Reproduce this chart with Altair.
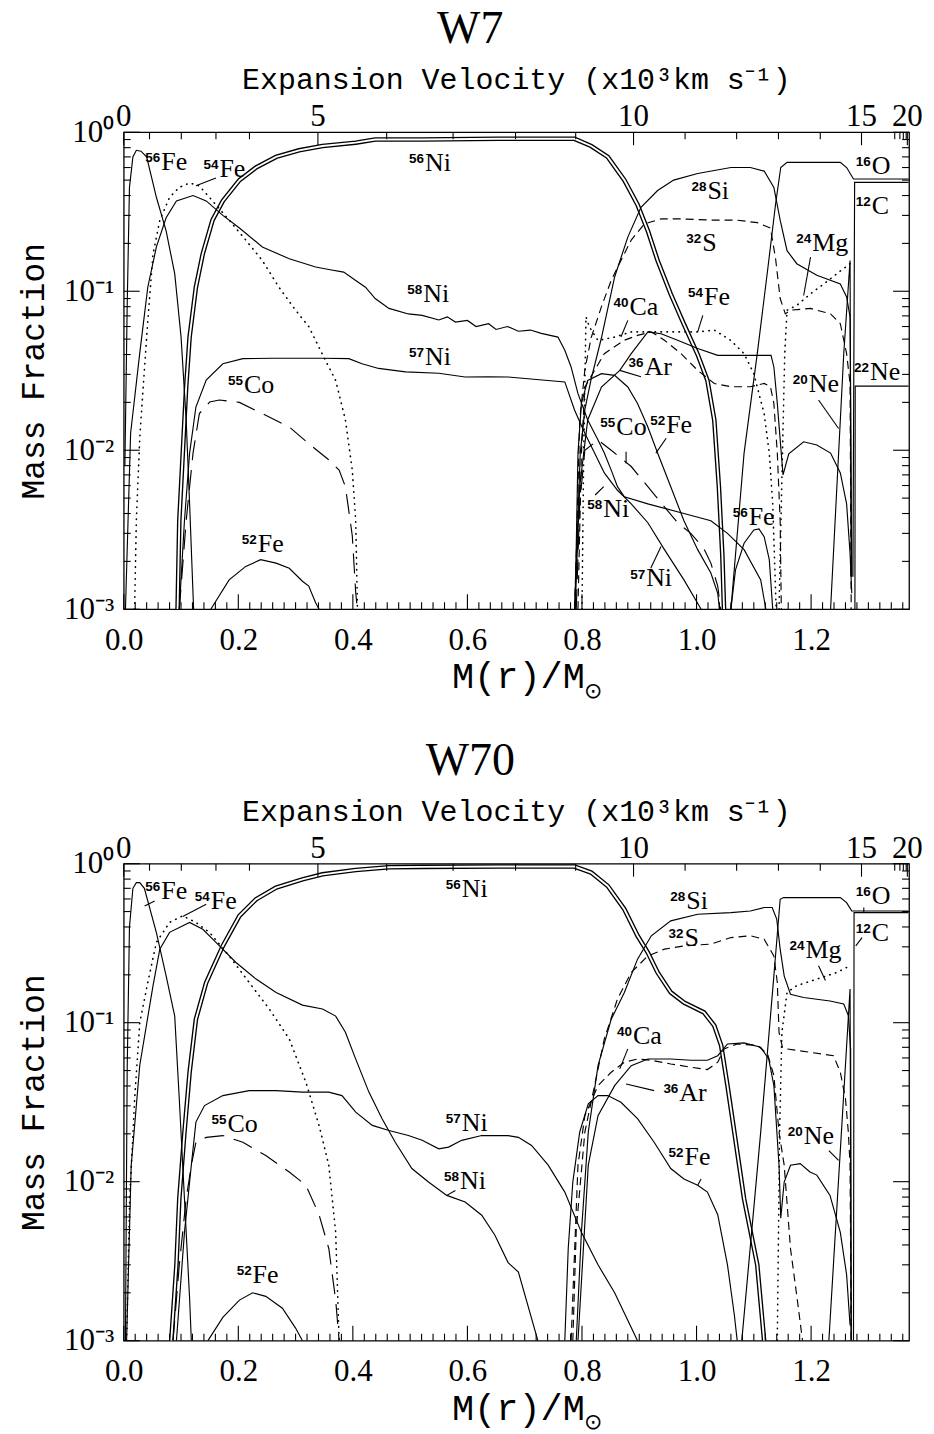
import altair as alt
import pandas as pd

# ------------------------------------------------------------------
# Nucleosynthesis yields of the W7 and W70 deflagration models:
# mass fraction versus enclosed mass M(r)/Msun.
# ------------------------------------------------------------------

# ---------------- W7 ----------------
w7_fe56_m = [0.002, 0.006, 0.010, 0.016, 0.022, 0.030, 0.040, 0.057, 0.074, 0.089, 0.100, 0.109, 0.115, 0.122]
w7_fe56_x = [0.008, 0.08, 0.45, 0.70, 0.77, 0.76, 0.70, 0.39, 0.24, 0.129, 0.052, 0.0155, 0.0046, 0.001]
w7_fe56b_m = [1.060, 1.068, 1.083, 1.100, 1.109, 1.118, 1.127, 1.133]
w7_fe56b_x = [0.001, 0.00177, 0.0026, 0.00315, 0.0032, 0.00286, 0.00205, 0.001]

w7_fe54_m = [0.019, 0.022, 0.028, 0.034, 0.042, 0.051, 0.063, 0.080, 0.097, 0.115, 0.132, 0.155, 0.184,
             0.213, 0.242, 0.271, 0.300, 0.323, 0.347, 0.370, 0.387, 0.399, 0.405, 0.408]
w7_fe54_x = [0.001, 0.0036, 0.012, 0.025, 0.065, 0.17, 0.28, 0.39, 0.45, 0.48, 0.46, 0.37, 0.28,
             0.21, 0.156, 0.106, 0.076, 0.060, 0.040, 0.0275, 0.0155, 0.0075, 0.0036, 0.001]
w7_fe54b_m = [0.800, 0.803, 0.807, 0.813, 0.828, 0.857, 0.886, 0.944, 1.002, 1.031, 1.060, 1.083, 1.100,
              1.118, 1.127, 1.133, 1.139]
w7_fe54b_x = [0.001, 0.0096, 0.069, 0.0596, 0.049, 0.0515, 0.0555, 0.0555, 0.0555, 0.057, 0.049, 0.0405,
              0.0303, 0.017, 0.0096, 0.0046, 0.001]

w7_ni56_m = [0.094, 0.097, 0.103, 0.109, 0.115, 0.126, 0.138, 0.155, 0.173, 0.202, 0.231, 0.266, 0.306,
             0.347, 0.405, 0.439, 0.521, 0.654, 0.787, 0.816, 0.845, 0.874, 0.897, 0.915, 0.932, 0.955,
             0.978, 1.002, 1.019, 1.031, 1.039, 1.045, 1.048]
w7_ni56_x = [0.001, 0.0036, 0.0095, 0.025, 0.0515, 0.106, 0.172, 0.28, 0.37, 0.50, 0.60, 0.70, 0.77,
             0.82, 0.86, 0.90, 0.90, 0.91, 0.91, 0.82, 0.70, 0.50, 0.35, 0.24, 0.156, 0.096,
             0.062, 0.040, 0.0275, 0.0155, 0.0059, 0.0022, 0.001]

w7_ni58_m = [0.003, 0.012, 0.028, 0.042, 0.057, 0.074, 0.092, 0.121, 0.144, 0.173, 0.202, 0.242, 0.289,
             0.335, 0.358, 0.384, 0.405, 0.422, 0.439, 0.463, 0.497, 0.521, 0.550, 0.565, 0.579, 0.600,
             0.615, 0.637, 0.650, 0.670, 0.689, 0.710, 0.729, 0.758, 0.770, 0.781, 0.793, 0.810, 0.828,
             0.839, 0.851, 0.862, 0.874, 0.915, 0.978, 1.025, 1.054, 1.083, 1.112, 1.121]
w7_ni58_x = [0.001, 0.0128, 0.041, 0.106, 0.19, 0.29, 0.37, 0.40, 0.37, 0.30, 0.25, 0.19, 0.16,
             0.142, 0.137, 0.132, 0.117, 0.106, 0.090, 0.078, 0.072, 0.0705, 0.066, 0.069, 0.0640, 0.0655,
             0.0600, 0.0625, 0.0575, 0.0600, 0.0560, 0.0570, 0.0543, 0.0515, 0.0425, 0.0334, 0.0227, 0.0155, 0.0116,
             0.0096, 0.0075, 0.0059, 0.0051, 0.0046, 0.0040, 0.0036, 0.0030, 0.00237, 0.00153, 0.001]

w7_ni57_m = [0.097, 0.106, 0.115, 0.126, 0.144, 0.173, 0.208, 0.260, 0.347, 0.393, 0.416, 0.445, 0.492,
             0.550, 0.596, 0.637, 0.671, 0.770, 0.787, 0.805, 0.822, 0.839, 0.862, 0.886, 0.915, 0.944,
             0.978, 1.008]
w7_ni57_x = [0.001, 0.0036, 0.0096, 0.0187, 0.0276, 0.035, 0.0377, 0.0379, 0.0379, 0.0377, 0.035, 0.0327,
             0.0311, 0.0305, 0.0289, 0.029, 0.0289, 0.0269, 0.0179, 0.0128, 0.0096, 0.0072, 0.0056, 0.0046,
             0.0035, 0.00237, 0.00153, 0.001]

w7_co55_m = [0.097, 0.109, 0.121, 0.132, 0.150, 0.167, 0.202, 0.242, 0.289, 0.323, 0.358, 0.376, 0.387,
             0.399, 0.405, 0.408]
w7_co55_x = [0.001, 0.0036, 0.0096, 0.017, 0.0201, 0.0207, 0.020, 0.017, 0.014, 0.011, 0.0087, 0.0075,
             0.0059, 0.0029, 0.00127, 0.001]
w7_co55b_m = [0.790, 0.796, 0.805, 0.828, 0.851, 0.886, 0.915, 0.944, 0.967, 0.990, 1.013, 1.025, 1.037, 1.042]
w7_co55b_x = [0.001, 0.0046, 0.010, 0.0116, 0.010, 0.0079, 0.0059, 0.0044, 0.0035, 0.003, 0.0024, 0.00195,
              0.0014, 0.001]

w7_fe52_m = [0.152, 0.184, 0.213, 0.239, 0.266, 0.289, 0.312, 0.323, 0.335, 0.341]
w7_fe52_x = [0.001, 0.00153, 0.00186, 0.00205, 0.00195, 0.00181, 0.0015, 0.0014, 0.0011, 0.001]
w7_fe52b_m = [0.788, 0.793, 0.799, 0.810, 0.834, 0.857, 0.880, 0.897, 0.915, 0.932, 0.955, 0.978, 1.002,
              1.025, 1.037, 1.040]
w7_fe52b_x = [0.001, 0.0096, 0.0197, 0.0275, 0.0303, 0.0296, 0.025, 0.0197, 0.014, 0.0096, 0.0059, 0.0036,
              0.00237, 0.00169, 0.00126, 0.001]

w7_si28_m = [0.787, 0.797, 0.805, 0.816, 0.834, 0.857, 0.880, 0.903, 0.932, 0.960, 1.002, 1.060, 1.094,
             1.118, 1.135, 1.146, 1.158, 1.175, 1.210, 1.251, 1.262, 1.268, 1.271]
w7_si28_x = [0.001, 0.0096, 0.018, 0.028, 0.051, 0.123, 0.219, 0.337, 0.43, 0.50, 0.55, 0.60, 0.60,
             0.57, 0.45, 0.28, 0.18, 0.149, 0.126, 0.111, 0.092, 0.069, 0.0016]

w7_s32_m = [0.787, 0.790, 0.796, 0.805, 0.816, 0.834, 0.851, 0.868, 0.886, 0.909, 0.938, 0.973, 1.031,
            1.071, 1.106, 1.129, 1.138, 1.146, 1.155, 1.164, 1.199, 1.234, 1.251, 1.262, 1.268, 1.270]
w7_s32_x = [0.001, 0.0022, 0.0154, 0.032, 0.051, 0.080, 0.117, 0.156, 0.21, 0.265, 0.285, 0.285, 0.28,
            0.28, 0.27, 0.25, 0.16, 0.09, 0.072, 0.076, 0.078, 0.072, 0.0625, 0.0405, 0.0263, 0.001]

w7_ca40_m = [0.793, 0.799, 0.805, 0.839, 0.874, 0.897, 0.921, 0.944, 0.973, 1.002, 1.031, 1.060, 1.094,
             1.118, 1.129, 1.135, 1.141, 1.146, 1.148]
w7_ca40_x = [0.001, 0.0096, 0.025, 0.0405, 0.0492, 0.0528, 0.0555, 0.0492, 0.0405, 0.0318, 0.0263, 0.0251,
             0.0251, 0.0263, 0.0251, 0.0197, 0.0096, 0.0036, 0.001]

w7_ar36_m = [0.788, 0.796, 0.810, 0.834, 0.866, 0.886, 0.915, 0.938, 0.967, 1.002, 1.037, 1.130, 1.135,
             1.141, 1.147, 1.151, 1.161, 1.187, 1.210, 1.234, 1.251, 1.262, 1.268, 1.271]
w7_ar36_x = [0.001, 0.0059, 0.0155, 0.025, 0.0318, 0.0405, 0.0555, 0.054, 0.0492, 0.0436, 0.0395, 0.0395,
             0.0334, 0.0197, 0.0105, 0.007, 0.0095, 0.0113, 0.0108, 0.0096, 0.0072, 0.0046, 0.00225, 0.00126]

w7_o16_m = [1.060, 1.083, 1.106, 1.124, 1.138, 1.147, 1.158, 1.251, 1.262, 1.274, 1.370]
w7_o16_x = [0.001, 0.0096, 0.0405, 0.135, 0.354, 0.60, 0.647, 0.647, 0.60, 0.508, 0.508]
w7_mg24_m = [1.144, 1.150, 1.154, 1.158, 1.175, 1.199, 1.222, 1.245, 1.268]
w7_mg24_x = [0.001, 0.0096, 0.0405, 0.076, 0.0815, 0.0964, 0.111, 0.129, 0.149]
w7_ne20_m = [1.234, 1.245, 1.257, 1.268, 1.270]
w7_ne20_x = [0.001, 0.0059, 0.0405, 0.156, 0.0016]
w7_c12_m = [1.273, 1.276, 1.370]
w7_c12_x = [0.0016, 0.484, 0.484]
w7_ne22_m = [1.2765, 1.277, 1.370]
w7_ne22_x = [0.001, 0.0253, 0.0253]

# ---------------- W70 ----------------
w70_fe56_m = [0.003, 0.006, 0.010, 0.016, 0.022, 0.028, 0.036, 0.057, 0.074, 0.089, 0.097, 0.106, 0.115, 0.118]
w70_fe56_x = [0.001, 0.05, 0.40, 0.70, 0.76, 0.76, 0.70, 0.369, 0.197, 0.11, 0.033, 0.0078, 0.00184, 0.001]

w70_fe54_m = [0.005, 0.0104, 0.019, 0.028, 0.042, 0.057, 0.080, 0.103, 0.126, 0.150, 0.184, 0.219, 0.254,
              0.289, 0.318, 0.341, 0.358, 0.370, 0.376]
w70_fe54_x = [0.001, 0.0078, 0.033, 0.10, 0.179, 0.32, 0.427, 0.47, 0.427, 0.369, 0.263, 0.179, 0.122,
              0.079, 0.0422, 0.0226, 0.0127, 0.0048, 0.001]

w70_ni58_m = [0.005, 0.013, 0.028, 0.051, 0.063, 0.080, 0.115, 0.138, 0.161, 0.196, 0.231, 0.266, 0.312,
              0.347, 0.370, 0.387, 0.405, 0.428, 0.451, 0.474, 0.503, 0.532, 0.564, 0.596, 0.625, 0.648,
              0.671, 0.689, 0.723]
w70_ni58_x = [0.001, 0.0126, 0.054, 0.17, 0.29, 0.37, 0.427, 0.387, 0.32, 0.239, 0.188, 0.155, 0.129,
              0.122, 0.11, 0.087, 0.059, 0.0366, 0.0249, 0.0177, 0.0121, 0.00995, 0.0082, 0.00745, 0.00615,
              0.0046, 0.0031, 0.0027, 0.001]

w70_ni57_m = [0.092, 0.106, 0.118, 0.126, 0.141, 0.173, 0.219, 0.266, 0.312, 0.358, 0.381, 0.405, 0.434,
              0.463, 0.497, 0.521, 0.550, 0.567, 0.590, 0.625, 0.671, 0.689, 0.712, 0.741, 0.770, 0.799,
              0.828, 0.857, 0.897]
w70_ni57_x = [0.001, 0.0048, 0.0127, 0.0237, 0.0301, 0.0348, 0.0374, 0.0374, 0.0366, 0.0366, 0.0348, 0.0274,
              0.0226, 0.021, 0.0195, 0.0182, 0.0161, 0.0165, 0.0182, 0.0195, 0.0195, 0.019, 0.0169, 0.0127,
              0.0086, 0.0048, 0.003, 0.002, 0.001]

w70_ni56_m = [0.083, 0.092, 0.097, 0.106, 0.115, 0.126, 0.144, 0.173, 0.202, 0.231, 0.266, 0.312, 0.347,
              0.405, 0.463, 0.521, 0.654, 0.787, 0.816, 0.845, 0.874, 0.897, 0.915, 0.932, 0.955, 0.978,
              1.013, 1.031, 1.043, 1.054, 1.066, 1.083, 1.106, 1.118]
w70_ni56_x = [0.001, 0.003, 0.0078, 0.0205, 0.0488, 0.105, 0.179, 0.304, 0.47, 0.597, 0.707, 0.797, 0.857,
              0.912, 0.95, 0.955, 0.96, 0.96, 0.88, 0.724, 0.517, 0.352, 0.276, 0.207, 0.155, 0.134,
              0.116, 0.0958, 0.0718, 0.0402, 0.0205, 0.0078, 0.003, 0.001]

w70_co55_m = [0.086, 0.097, 0.109, 0.118, 0.126, 0.144, 0.173, 0.208, 0.248, 0.289, 0.318, 0.341, 0.358,
              0.370, 0.376]
w70_co55_x = [0.001, 0.003, 0.0078, 0.0127, 0.0177, 0.019, 0.0195, 0.0177, 0.0146, 0.0115, 0.0095, 0.0062,
              0.0038, 0.0018, 0.001]

w70_fe52_m = [0.147, 0.173, 0.202, 0.225, 0.248, 0.277, 0.300, 0.312]
w70_fe52_x = [0.001, 0.0014, 0.0018, 0.002, 0.0019, 0.0016, 0.0012, 0.001]
w70_fe52b_m = [0.770, 0.776, 0.784, 0.796, 0.811, 0.828, 0.845, 0.868, 0.897, 0.926, 0.955, 0.978, 1.002,
               1.019, 1.037, 1.054, 1.066, 1.071]
w70_fe52b_x = [0.001, 0.0038, 0.00995, 0.0205, 0.0309, 0.0348, 0.0348, 0.0316, 0.0249, 0.0177, 0.0121,
               0.0104, 0.0095, 0.0086, 0.0062, 0.003, 0.00145, 0.001]

w70_si28_m = [0.790, 0.799, 0.811, 0.828, 0.851, 0.874, 0.897, 0.921, 0.955, 1.002, 1.060, 1.094, 1.118,
              1.132, 1.140, 1.146, 1.153, 1.164, 1.187, 1.233, 1.257, 1.265, 1.269, 1.270]
w70_si28_x = [0.001, 0.0048, 0.0205, 0.0537, 0.105, 0.155, 0.251, 0.352, 0.437, 0.481, 0.492, 0.504, 0.53,
              0.53, 0.448, 0.29, 0.197, 0.151, 0.144, 0.137, 0.131, 0.111, 0.068, 0.001]

w70_s32_m = [0.784, 0.790, 0.805, 0.839, 0.862, 0.886, 0.915, 0.944, 0.978, 1.025, 1.060, 1.094, 1.118,
             1.135, 1.141, 1.144, 1.150, 1.158, 1.239, 1.251, 1.260, 1.265, 1.268, 1.270]
w70_s32_x = [0.001, 0.005, 0.0205, 0.079, 0.141, 0.207, 0.263, 0.29, 0.304, 0.312, 0.343, 0.352, 0.335,
             0.263, 0.179, 0.087, 0.07, 0.0684, 0.062, 0.0488, 0.0332, 0.0205, 0.0127, 0.001]

w70_ca40_m = [0.781, 0.793, 0.805, 0.828, 0.851, 0.874, 0.897, 0.921, 0.955, 0.990, 1.019, 1.037, 1.048,
              1.071, 1.106, 1.124, 1.135, 1.144, 1.153, 1.164, 1.176, 1.185]
w70_ca40_x = [0.001, 0.0127, 0.026, 0.0402, 0.0488, 0.0564, 0.0591, 0.058, 0.055, 0.0525, 0.0507, 0.0564,
              0.0684, 0.0735, 0.072, 0.0636, 0.0465, 0.0205, 0.0127, 0.0038, 0.0018, 0.001]

w70_ar36_m = [0.793, 0.811, 0.828, 0.857, 0.886, 0.915, 0.955, 0.990, 1.019, 1.037, 1.054, 1.083, 1.112,
              1.126, 1.135, 1.144, 1.147, 1.153, 1.164, 1.181, 1.198, 1.210, 1.233, 1.251, 1.262, 1.268]
w70_ar36_x = [0.001, 0.0127, 0.026, 0.0402, 0.0537, 0.0591, 0.0591, 0.058, 0.058, 0.062, 0.0735, 0.0747,
              0.070, 0.0591, 0.0402, 0.0127, 0.0059, 0.00995, 0.0127, 0.013, 0.0115, 0.011, 0.0082, 0.0048,
              0.0026, 0.00125]

w70_o16_m = [1.079, 1.112, 1.135, 1.146, 1.152, 1.251, 1.262, 1.271, 1.370]
w70_o16_x = [0.001, 0.0205, 0.197, 0.597, 0.612, 0.612, 0.569, 0.504, 0.504]
w70_mg24_m = [1.141, 1.145, 1.149, 1.158, 1.175, 1.210, 1.245, 1.268]
w70_mg24_x = [0.001, 0.0205, 0.087, 0.155, 0.171, 0.188, 0.207, 0.228]
w70_ne20_m = [1.231, 1.268, 1.270]
w70_ne20_x = [0.001, 0.163, 0.001]
w70_c12_m = [1.274, 1.275, 1.370]
w70_c12_x = [0.001, 0.492, 0.492]

# ---------------- isotope labels (anchor = start of the element symbol) ----------------
w7_lab_m = [0.0655, 0.167, 0.526, 0.523, 0.526, 0.210, 0.234, 1.019, 1.010, 1.306, 1.306, 1.202, 0.883,
            1.013, 0.909, 1.196, 1.303, 0.860, 0.947, 0.837, 0.912, 1.091]
w7_lab_x = [0.579, 0.521, 0.568, 0.0855, 0.0343, 0.023, 0.00228, 0.381, 0.180, 0.546, 0.306, 0.18, 0.0705,
            0.0815, 0.0296, 0.0233, 0.0275, 0.01245, 0.0128, 0.00383, 0.00139, 0.00339]
w7_lab_a = ["56", "54", "56", "58", "57", "55", "52", "28", "32", "16", "12", "24", "40",
            "54", "36", "20", "22", "55", "52", "58", "57", "56"]
w7_lab_el = ["Fe", "Fe", "Ni", "Ni", "Ni", "Co", "Fe", "Si", "S", "O", "C", "Mg", "Ca",
             "Fe", "Ar", "Ne", "Ne", "Co", "Fe", "Ni", "Ni", "Fe"]

w7_lead_m1 = [0.126, 1.199, 0.880, 1.011, 0.903, 1.213, 0.877, 0.947, 0.823, 0.920]
w7_lead_x1 = [0.461, 0.164, 0.0656, 0.0705, 0.029, 0.0207, 0.0098, 0.0119, 0.00523, 0.00181]
w7_lead_m2 = [0.161, 1.187, 0.868, 1.002, 0.866, 1.248, 0.877, 0.929, 0.838, 0.938]
w7_lead_x2 = [0.515, 0.094, 0.0515, 0.0555, 0.0318, 0.0137, 0.00826, 0.0096, 0.0059, 0.00248]

w70_lab_m = [0.0655, 0.152, 0.590, 0.590, 0.587, 0.181, 0.225, 0.982, 0.979, 1.306, 1.306, 1.190, 0.889,
             0.970, 0.979, 1.187]
w70_lab_x = [0.597, 0.522, 0.621, 0.0207, 0.009, 0.0205, 0.00229, 0.517, 0.304, 0.556, 0.327, 0.257, 0.0735,
             0.0324, 0.0127, 0.0173]
w70_lab_a = ["56", "54", "56", "57", "58", "55", "52", "28", "32", "16", "12", "24", "40", "36", "52", "20"]
w70_lab_el = ["Fe", "Fe", "Ni", "Ni", "Ni", "Co", "Fe", "Si", "S", "O", "C", "Mg", "Ca", "Ar", "Fe", "Ne"]

w70_lead_m1 = [0.0365, 0.103, 0.564, 0.866, 0.877, 1.213, 1.008, 1.231, 1.292, 1.289]
w70_lead_x1 = [0.542, 0.465, 0.0082, 0.0512, 0.0412, 0.228, 0.0104, 0.0157, 0.53, 0.343]
w70_lead_m2 = [0.054, 0.144, 0.579, 0.880, 0.926, 1.225, 1.002, 1.248, 1.292, 1.278]
w70_lead_x2 = [0.583, 0.555, 0.0088, 0.0684, 0.0374, 0.184, 0.0095, 0.0136, 0.49, 0.304]

# ---------------- axes ----------------
mass_labels = [0.0, 0.2, 0.4, 0.6, 0.8, 1.0, 1.2]
mass_minor = [round(0.02 * k, 2) for k in range(1, 69) if k % 10 != 0]
frac_major = [0.001, 0.01, 0.1, 1.0]
frac_minor = [k * 10.0 ** e for e in (-3, -2, -1) for k in range(2, 10)]
vel_labels = ["0", "5", "10", "15", "20"]
vel_major_m = [0.0, 0.339, 0.890, 1.288, 1.368]
vel_minor_m = [0.045, 0.1005, 0.161, 0.2195, 0.459, 0.575, 0.684, 0.789, 0.980, 1.070, 1.143, 1.216,
               1.346, 1.355, 1.361, 1.366]

W, H = 787, 478
M_MAX = 1.371
SERIF = "Liberation Serif"
MONO = "Liberation Mono"
SANS = "Liberation Sans"

x_scale = alt.Scale(domain=[0, M_MAX], nice=False, zero=False)
y_scale = alt.Scale(type="log", domain=[0.001, 1.0], nice=False)

x_axis = alt.Axis(values=mass_labels, format=".1f", labelFont=SERIF, labelFontSize=31, labelColor="black",
                  labelPadding=16, labelFlush=False, ticks=False, domain=False, grid=False, title=None)
y_axis = alt.Axis(values=frac_major, labelFont=SERIF, labelFontSize=31, labelColor="black", labelPadding=10,
                  labelExpr="datum.value > 0.5 ? '10\u2070' : datum.value > 0.05 ? '10\u207b\u00b9' : "
                            "datum.value > 0.005 ? '10\u207b\u00b2' : '10\u207b\u00b3'",
                  ticks=False, domain=False, grid=False, labelFlush=False,
                  title="Mass Fraction", titleFont=MONO, titleFontSize=33, titleFontWeight="normal",
                  titleColor="black", titlePadding=13)


def ex(field):
    return alt.X(field, type="quantitative", scale=x_scale, axis=x_axis)


def ey(field):
    return alt.Y(field, type="quantitative", scale=y_scale, axis=y_axis)


def curve_table(curves):
    rows = []
    for name, style, ms, xs in curves:
        for i, (m, x) in enumerate(zip(ms, xs)):
            rows.append({"curve": name, "style": style, "m": m, "x": x, "i": i})
    return pd.DataFrame(rows)


def note(text, x, y, font, size, **kw):
    """A single piece of axis text placed relative to the plot frame."""
    return alt.Chart(pd.DataFrame({"t": [text]})).mark_text(
        font=font, fontSize=size, color="black", **kw
    ).encode(x=alt.value(x), y=alt.value(y), text="t:N")


def panel(title, curves, lab_m, lab_x, lab_a, lab_el, l_m1, l_x1, l_m2, l_x2):
    base = alt.Chart(curve_table(curves))

    def lines(style, color="black", **kw):
        return base.transform_filter(alt.datum.style == style).mark_line(
            clip=True, color=color, **kw
        ).encode(x=ex("m"), y=ey("x"), detail="curve:N", order="i:Q")

    dbl_outer = lines("double", strokeWidth=4.6)
    dbl_inner = lines("double", color="white", strokeWidth=1.9)
    solid = lines("solid", strokeWidth=1.15)
    dotted = lines("dotted", strokeWidth=1.6, strokeDash=[0.5, 5.5], strokeCap="round")
    dashed = lines("dashed", strokeWidth=1.15, strokeDash=[8, 5])
    longdash = lines("longdash", strokeWidth=1.15, strokeDash=[20, 10])

    leaders = alt.Chart(pd.DataFrame({"m1": l_m1, "x1": l_x1, "m2": l_m2, "x2": l_x2})).mark_rule(
        color="black", strokeWidth=1.1
    ).encode(x=ex("m1"), x2="m2", y=ey("x1"), y2="x2")

    labels = pd.DataFrame({"m": lab_m, "x": lab_x, "a": lab_a, "el": lab_el})
    sup = alt.Chart(labels).mark_text(
        align="right", baseline="alphabetic", dy=-8, dx=-1, font=SANS, fontWeight="bold",
        fontSize=13.5, color="black"
    ).encode(x=ex("m"), y=ey("x"), text="a:N")
    sym = alt.Chart(labels).mark_text(
        align="left", baseline="alphabetic", font=SERIF, fontSize=26, color="black"
    ).encode(x=ex("m"), y=ey("x"), text="el:N")

    # inward tick marks on all four sides
    bmaj = pd.DataFrame({"m": mass_labels})
    bmin = pd.DataFrame({"m": mass_minor})
    ymaj = pd.DataFrame({"v": frac_major})
    ymin = pd.DataFrame({"v": frac_minor})
    tmaj = pd.DataFrame({"m": vel_major_m, "t": vel_labels})
    tmin = pd.DataFrame({"m": vel_minor_m})

    def rule(df):
        return alt.Chart(df).mark_rule(color="black", strokeWidth=1.1)

    ticks = [
        rule(bmaj).encode(x=ex("m"), y=alt.value(H), y2=alt.value(H - 15)),
        rule(bmin).encode(x=ex("m"), y=alt.value(H), y2=alt.value(H - 7)),
        rule(tmaj).encode(x=ex("m"), y=alt.value(0), y2=alt.value(13)),
        rule(tmin).encode(x=ex("m"), y=alt.value(0), y2=alt.value(7)),
        rule(ymaj).encode(y=ey("v"), x=alt.value(0), x2=alt.value(16)),
        rule(ymin).encode(y=ey("v"), x=alt.value(0), x2=alt.value(7)),
        rule(ymaj).encode(y=ey("v"), x=alt.value(W), x2=alt.value(W - 16)),
        rule(ymin).encode(y=ey("v"), x=alt.value(W), x2=alt.value(W - 7)),
    ]

    top_labels = alt.Chart(tmaj).mark_text(
        baseline="bottom", font=SERIF, fontSize=31, color="black"
    ).encode(x=ex("m"), y=alt.value(1), text="t:N")
    top_title = note("Expansion Velocity (x10\u00b3km s\u207b\u00b9)", W / 2, -52, MONO, 30, baseline="middle")
    x_title = note("M(r)/M", W / 2 + 2, H + 68, MONO, 37, baseline="middle")
    x_title_sub = note("\u2299", W / 2 + 77, H + 82, "DejaVu Sans", 22, baseline="middle")

    return alt.layer(
        dbl_outer, dbl_inner, solid, dotted, dashed, longdash, leaders, sup, sym,
        *ticks, top_labels, top_title, x_title, x_title_sub
    ).properties(
        width=W, height=H,
        title=alt.TitleParams(title, font=SERIF, fontSize=46, fontWeight="normal", color="black",
                              anchor="middle", frame="bounds", offset=12),
    )


w7_curves = [
    ("56Ni", "double", w7_ni56_m, w7_ni56_x),
    ("56Fe", "solid", w7_fe56_m, w7_fe56_x),
    ("56Fe b", "solid", w7_fe56b_m, w7_fe56b_x),
    ("58Ni", "solid", w7_ni58_m, w7_ni58_x),
    ("57Ni", "solid", w7_ni57_m, w7_ni57_x),
    ("52Fe", "solid", w7_fe52_m, w7_fe52_x),
    ("52Fe b", "solid", w7_fe52b_m, w7_fe52b_x),
    ("28Si", "solid", w7_si28_m, w7_si28_x),
    ("36Ar", "solid", w7_ar36_m, w7_ar36_x),
    ("16O", "solid", w7_o16_m, w7_o16_x),
    ("20Ne", "solid", w7_ne20_m, w7_ne20_x),
    ("12C", "solid", w7_c12_m, w7_c12_x),
    ("22Ne", "solid", w7_ne22_m, w7_ne22_x),
    ("54Fe", "dotted", w7_fe54_m, w7_fe54_x),
    ("54Fe b", "dotted", w7_fe54b_m, w7_fe54b_x),
    ("24Mg", "dotted", w7_mg24_m, w7_mg24_x),
    ("32S", "dashed", w7_s32_m, w7_s32_x),
    ("40Ca", "dashed", w7_ca40_m, w7_ca40_x),
    ("55Co", "longdash", w7_co55_m, w7_co55_x),
    ("55Co b", "longdash", w7_co55b_m, w7_co55b_x),
]

w70_curves = [
    ("56Ni", "double", w70_ni56_m, w70_ni56_x),
    ("56Fe", "solid", w70_fe56_m, w70_fe56_x),
    ("58Ni", "solid", w70_ni58_m, w70_ni58_x),
    ("57Ni", "solid", w70_ni57_m, w70_ni57_x),
    ("52Fe", "solid", w70_fe52_m, w70_fe52_x),
    ("52Fe b", "solid", w70_fe52b_m, w70_fe52b_x),
    ("28Si", "solid", w70_si28_m, w70_si28_x),
    ("36Ar", "solid", w70_ar36_m, w70_ar36_x),
    ("16O", "solid", w70_o16_m, w70_o16_x),
    ("20Ne", "solid", w70_ne20_m, w70_ne20_x),
    ("12C", "solid", w70_c12_m, w70_c12_x),
    ("54Fe", "dotted", w70_fe54_m, w70_fe54_x),
    ("24Mg", "dotted", w70_mg24_m, w70_mg24_x),
    ("32S", "dashed", w70_s32_m, w70_s32_x),
    ("40Ca", "dashed", w70_ca40_m, w70_ca40_x),
    ("55Co", "longdash", w70_co55_m, w70_co55_x),
]

top = panel("W7", w7_curves, w7_lab_m, w7_lab_x, w7_lab_a, w7_lab_el,
            w7_lead_m1, w7_lead_x1, w7_lead_m2, w7_lead_x2)
bottom = panel("W70", w70_curves, w70_lab_m, w70_lab_x, w70_lab_a, w70_lab_el,
               w70_lead_m1, w70_lead_x1, w70_lead_m2, w70_lead_x2)

chart = alt.vconcat(top, bottom, spacing=34).properties(
    padding={"left": 17, "top": 4, "right": 10, "bottom": 5}, background="white"
).configure_view(stroke="black", strokeWidth=1.3)

chart.save("out.html", embed_options={"renderer": "svg", "actions": False})
